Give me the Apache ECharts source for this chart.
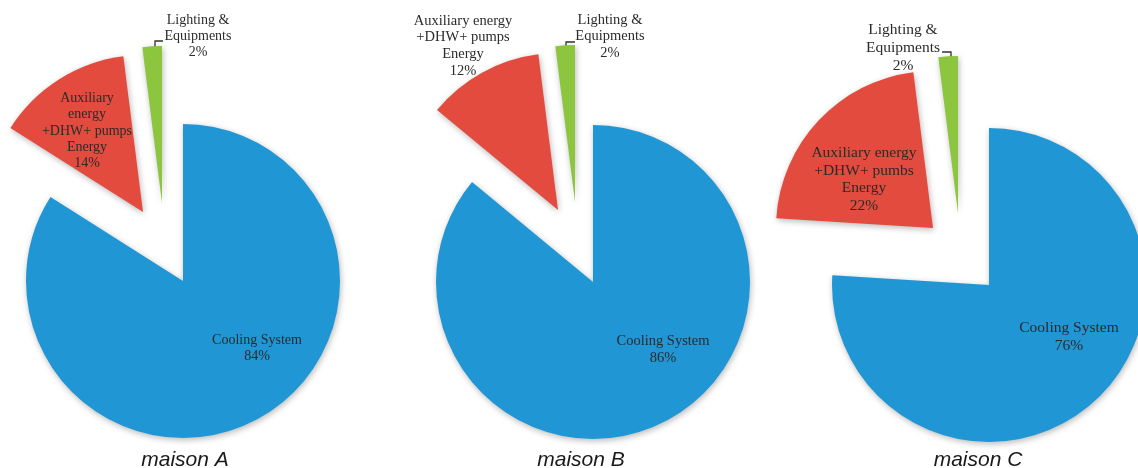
<!DOCTYPE html>
<html>
<head>
<meta charset="utf-8">
<script src="https://cdn.jsdelivr.net/npm/echarts@6/dist/echarts.min.js"></script>
<style>
html,body{margin:0;padding:0;background:#fff;}
#chart{width:1138px;height:468px;}
</style>
</head>
<body>
<div id="chart"></div>
<script>
// ---- data ----
const categories = ['Cooling System', 'Auxiliary energy +DHW+ pumps Energy', 'Lighting & Equipments'];
const houses = ['maison A', 'maison B', 'maison C'];
const valuesA = [84, 14, 2];
const valuesB = [86, 12, 2];
const valuesC = [76, 22, 2];
const labelsA = ['Cooling System', 'Auxiliary\nenergy\n+DHW+ pumps\nEnergy', 'Lighting &\nEquipments'];
const labelsB = ['Cooling System', 'Auxiliary energy\n+DHW+ pumps\nEnergy', 'Lighting &\nEquipments'];
const labelsC = ['Cooling System', 'Auxiliary energy\n+DHW+ pumbs\nEnergy', 'Lighting &\nEquipments'];
const allValues = [valuesA, valuesB, valuesC];
const allLabels = [labelsA, labelsB, labelsC];

// ---- layout / style ----
const colors = ['#2196d5', '#e24b3d', '#8cc63e'];
const pieLayout = [
  { center: [183, 281], radius: 157, font: 14, lh: 16.3,
    offsets: [[0, 0], [-40, -69], [-21, -78]],
    labelPos: [[74, 67.5], [-96, -150], [15, -244.5]],
    leader: [[-28, -229], [-28, -240], [-20, -240]], title: [185, 450] },
  { center: [593, 282], radius: 157, font: 14.5, lh: 16.7,
    offsets: [[0, 0], [-35, -72], [-18, -80]],
    labelPos: [[70, 68], [-130, -236], [17, -245.5]],
    leader: [[-27, -230], [-27, -240], [-18, -240]], title: [581, 450] },
  { center: [989, 285], radius: 157, font: 15.5, lh: 17.8,
    offsets: [[0, 0], [-56, -57], [-31, -72]],
    labelPos: [[80, 52], [-125, -105.5], [-86, -237]],
    leader: [[-47, -233], [-38, -233], [-38, -225]], title: [978, 450] }
];

const series = [];
pieLayout.forEach((L, c) => {
  const vals = allValues[c];
  const labs = allLabels[c];
  for (let k = 0; k < vals.length; k++) {
    const data = vals.map((v, i) => {
      const own = i === k;
      return {
        name: labs[i],
        value: v,
        itemStyle: own ? {
          color: colors[i],
          shadowBlur: 6, shadowColor: 'rgba(0,0,0,0.28)', shadowOffsetX: 1, shadowOffsetY: 2
        } : { color: 'rgba(0,0,0,0)' },
        label: { show: own },
        labelLine: { show: own && i === 2 }
      };
    });
    const cx = L.center[0], cy = L.center[1];
    series.push({
      type: 'pie',
      silent: true,
      animation: false,
      center: [cx + L.offsets[k][0], cy + L.offsets[k][1]],
      radius: [0, L.radius],
      startAngle: 90,
      clockwise: true,
      avoidLabelOverlap: false,
      minShowLabelAngle: 0,
      emphasis: { disabled: true },
      label: {
        position: k === 2 ? 'outside' : 'inside',
        formatter: p => p.name + '\n' + p.value + '%',
        fontFamily: 'Liberation Serif',
        fontSize: L.font,
        lineHeight: L.lh,
        color: '#2b2b2b',
        align: 'center'
      },
      labelLine: { show: k === 2, lineStyle: { color: '#333', width: 1.3 }, length: 5, length2: 5 },
      labelLayout: function (params) {
        if (params.dataIndex !== k) return {};
        const out = {
          x: cx + L.labelPos[k][0],
          y: cy + L.labelPos[k][1],
          align: 'center',
          verticalAlign: 'middle'
        };
        if (k === 2) {
          out.labelLinePoints = L.leader.map(p => [cx + p[0], cy + p[1]]);
        }
        return out;
      },
      data: data
    });
  }
});

const chart = echarts.init(document.getElementById('chart'), null, { renderer: 'canvas' });
chart.setOption({
  backgroundColor: '#ffffff',
  animation: false,
  title: houses.map((h, i) => ({
    text: h,
    left: pieLayout[i].title[0],
    top: pieLayout[i].title[1],
    textAlign: 'center',
    padding: 0,
    textStyle: { fontFamily: 'Liberation Sans', fontStyle: 'italic', fontWeight: 'normal', fontSize: 21, color: '#1a1a1a' }
  })),
  series: series
});
</script>
</body>
</html>
